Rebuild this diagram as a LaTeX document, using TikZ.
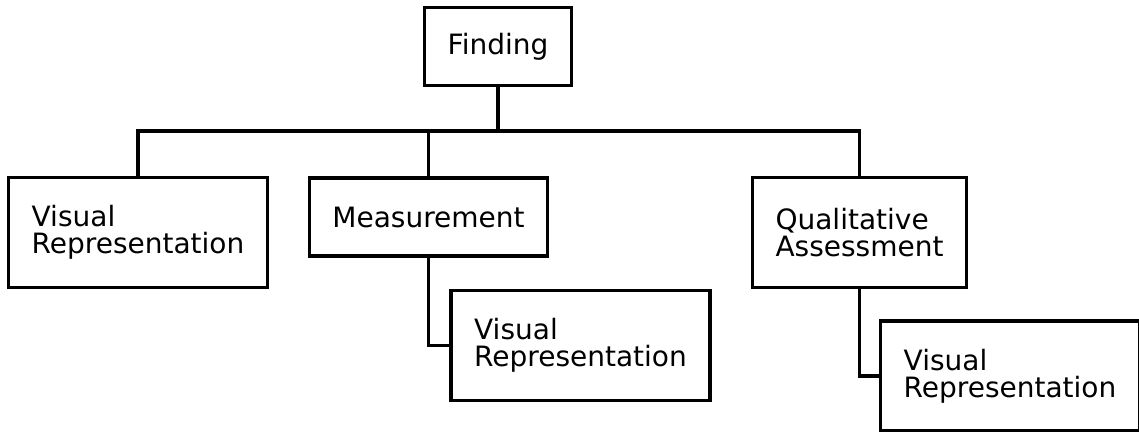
\documentclass[tikz,border=0pt]{standalone}
\usepackage{fontspec}
\setmainfont{DejaVu Sans}
\usepackage{tikz}
\usetikzlibrary{positioning}

\begin{document}
\begin{tikzpicture}[x=0.5pt, y=-0.5pt,
    every node/.style={draw, line width=1.8pt, fill=white, align=left,
        inner xsep=11.5pt, inner ysep=4pt,
        font=\fontsize{14}{13.4}\selectfont},
    single/.style={minimum height=39pt},
    double/.style={minimum height=55pt},
    link/.style={line width=1.8pt}]

    \useasboundingbox (0,0) rectangle (1139,432);

    % Nodes
    \node[single] (find) at (498,46.5) {Finding};
    \node[double] (vis1) at (138,232.5) {Visual\\Representation};
    \node[single] (meas) at (428.5,217) {Measurement};
    \node[double] (qual) at (859.5,232.5) {Qualitative\\Assessment};
    \node[double] (vis2) at (580.5,345.5) {Visual\\Representation};
    \node[double] (vis3) at (1010,376) {Visual\\Representation};
    \coordinate (bus) at (498,131);

    % Edges
    \draw[link] (find) -- (bus);
    \draw[link] (vis1.north) |- (bus) -| (qual.north);
    \draw[link] (meas.north) -- (meas.north |- bus);
    \draw[link] (meas.south) |- (vis2.west);
    \draw[link] (qual.south) |- (vis3.west);
\end{tikzpicture}
\end{document}
